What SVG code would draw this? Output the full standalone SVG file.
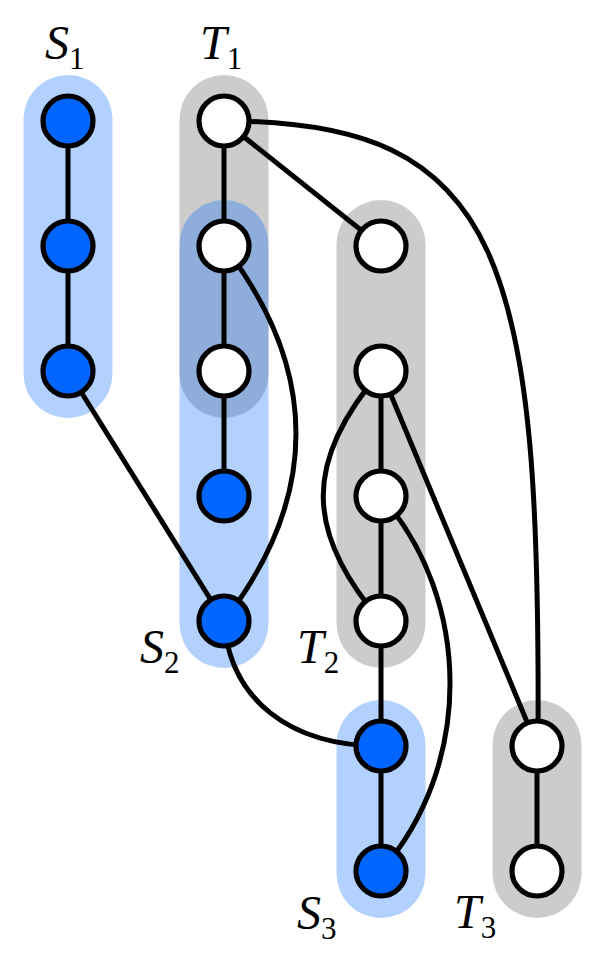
<svg xmlns="http://www.w3.org/2000/svg" width="611" height="960" viewBox="0 0 611 960">
<style>
.pg{fill:#cccccc}
.pb{fill:#0066ff;fill-opacity:0.3}
.e{fill:none;stroke:#000;stroke-width:5}
.nw{fill:#fff;stroke:#000;stroke-width:5.2}
.nb{fill:#0066ff;stroke:#000;stroke-width:5.2}
text{font-family:'Liberation Serif','Times New Roman',serif;font-style:italic;font-size:48px;fill:#000}
tspan{font-style:normal;font-size:31px}
</style>
<rect width="611" height="960" fill="#fff"/>
<g id="groups">
<rect id="T1-group" class="pg" x="179.5" y="75" width="89" height="343" rx="44.5"/>
<rect id="S1-group" class="pb" x="23.5" y="75" width="89" height="343" rx="44.5"/>
<rect id="S2-group" class="pb" x="179.5" y="200" width="89" height="468" rx="44.5"/>
<rect id="T2-group" class="pg" x="336.5" y="200" width="89" height="468" rx="44.5"/>
<rect id="S3-group" class="pb" x="336.5" y="700" width="89" height="218" rx="44.5"/>
<rect id="T3-group" class="pg" x="492.5" y="700" width="89" height="218" rx="44.5"/>
</g>
<g id="connectors">
<line class="e" x1="68" y1="121" x2="68" y2="371"/>
<line class="e" x1="68" y1="371" x2="224" y2="621"/>
<line class="e" x1="224" y1="121" x2="224" y2="496"/>
<line class="e" x1="224" y1="121" x2="381" y2="246"/>
<path class="e" d="M224,121 C505,121 541,260 538,746"/>
<path class="e" d="M224,246 C320,370 320,497 224,621"/>
<line class="e" x1="381" y1="371" x2="381" y2="621"/>
<path class="e" d="M381,371 C304,460 304,532 381,621"/>
<line class="e" x1="381" y1="371" x2="537" y2="746"/>
<path class="e" d="M381,496 C473,600 473,767 381,871"/>
<line class="e" x1="381" y1="621" x2="381" y2="871"/>
<path class="e" d="M224,621 C230,700 290,746 381,746"/>
<line class="e" x1="537" y1="746" x2="537" y2="871"/>
</g>
<g id="S1">
<circle id="s1a" class="nb" cx="68" cy="121" r="25"/>
<circle id="s1b" class="nb" cx="68" cy="246" r="25"/>
<circle id="s1c" class="nb" cx="68" cy="371" r="25"/>
<text x="45" y="59">S<tspan dy="10">1</tspan></text>
</g>
<g id="T1">
<circle id="t1a" class="nw" cx="224" cy="121" r="25"/>
<circle id="t1b" class="nw" cx="224" cy="246" r="25"/>
<circle id="t1c" class="nw" cx="224" cy="371" r="25"/>
<text x="200" y="59">T<tspan dy="10">1</tspan></text>
</g>
<g id="S2">
<circle id="s2a" class="nb" cx="224" cy="496" r="25"/>
<circle id="s2b" class="nb" cx="224" cy="621" r="25"/>
<text x="140" y="663">S<tspan dy="10">2</tspan></text>
</g>
<g id="T2">
<circle id="t2a" class="nw" cx="381" cy="246" r="25"/>
<circle id="t2b" class="nw" cx="381" cy="371" r="25"/>
<circle id="t2c" class="nw" cx="381" cy="496" r="25"/>
<circle id="t2d" class="nw" cx="381" cy="621" r="25"/>
<text x="297" y="663">T<tspan dy="10">2</tspan></text>
</g>
<g id="S3">
<circle id="s3a" class="nb" cx="381" cy="746" r="25"/>
<circle id="s3b" class="nb" cx="381" cy="871" r="25"/>
<text x="297" y="929">S<tspan dy="10">3</tspan></text>
</g>
<g id="T3">
<circle id="t3a" class="nw" cx="537" cy="746" r="25"/>
<circle id="t3b" class="nw" cx="537" cy="871" r="25"/>
<text x="454" y="928">T<tspan dy="10">3</tspan></text>
</g>
</svg>
